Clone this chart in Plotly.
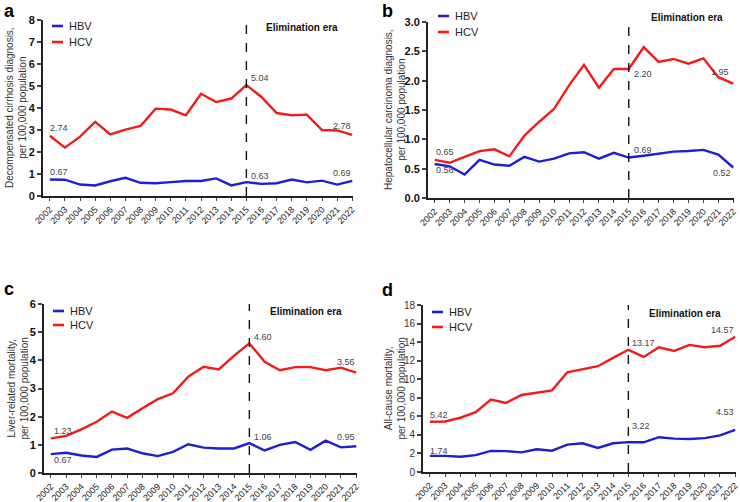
import plotly.graph_objects as go

years = list(range(2002, 2023))

# Panel a: Decompensated cirrhosis diagnosis
a_hbv = [0.75, 0.74, 0.52, 0.48, 0.67, 0.83, 0.60, 0.58, 0.63, 0.68, 0.68, 0.80, 0.48, 0.63, 0.55, 0.58, 0.75, 0.62, 0.70, 0.52, 0.69]
a_hcv = [2.74, 2.20, 2.70, 3.37, 2.80, 3.02, 3.18, 3.97, 3.93, 3.67, 4.65, 4.27, 4.43, 5.04, 4.50, 3.77, 3.67, 3.70, 3.00, 2.98, 2.78]
# Panel b: Hepatocellular carcinoma diagnosis
b_hbv = [0.58, 0.54, 0.40, 0.65, 0.57, 0.55, 0.70, 0.62, 0.67, 0.76, 0.78, 0.67, 0.77, 0.69, 0.72, 0.75, 0.79, 0.80, 0.82, 0.74, 0.52]
b_hcv = [0.65, 0.60, 0.70, 0.80, 0.83, 0.71, 1.06, 1.30, 1.52, 1.92, 2.27, 1.88, 2.20, 2.20, 2.57, 2.32, 2.37, 2.29, 2.38, 2.06, 1.95]
# Panel c: Liver-related mortality
c_hbv = [0.67, 0.72, 0.62, 0.57, 0.83, 0.87, 0.70, 0.60, 0.75, 1.02, 0.90, 0.87, 0.87, 1.06, 0.80, 1.00, 1.10, 0.82, 1.15, 0.91, 0.95]
c_hcv = [1.23, 1.32, 1.55, 1.82, 2.18, 1.96, 2.30, 2.62, 2.83, 3.42, 3.77, 3.68, 4.17, 4.60, 3.95, 3.65, 3.76, 3.76, 3.65, 3.74, 3.56]
# Panel d: All-cause mortality
d_hbv = [1.74, 1.74, 1.65, 1.82, 2.28, 2.25, 2.12, 2.45, 2.30, 2.95, 3.10, 2.60, 3.10, 3.22, 3.20, 3.75, 3.60, 3.55, 3.65, 3.95, 4.53]
d_hcv = [5.42, 5.45, 5.85, 6.45, 7.80, 7.45, 8.30, 8.55, 8.80, 10.75, 11.05, 11.40, 12.30, 13.17, 12.40, 13.45, 13.05, 13.70, 13.45, 13.60, 14.57]

# Printed value labels (2002, 2015, 2022)
a_hbv_lab = ["0.67", "0.63", "0.69"]
a_hcv_lab = ["2.74", "5.04", "2.78"]
b_hbv_lab = ["0.58", "0.69", "0.52"]
b_hcv_lab = ["0.65", "2.20", "1.95"]
c_hbv_lab = ["0.67", "1.06", "0.95"]
c_hcv_lab = ["1.23", "4.60", "3.56"]
d_hbv_lab = ["1.74", "3.22", "4.53"]
d_hcv_lab = ["5.42", "13.17", "14.57"]
label_years = [2002, 2015, 2022]

y_titles = ["Decompensated cirrhosis diagnosis,<br>per 100,000 population",
            "Hepatocellular carcinoma diagnosis,<br>per 100,000 population",
            "Liver-related mortality,<br>per 100,000 population",
            "All-cause mortality,<br>per 100,000 population"]
panel_letters = ["a", "b", "c", "d"]
y_max = [8, 3, 6, 18]
y_dtick = [1, 0.5, 1, 2]
y_fmt = ["d", ".1f", "d", "d"]
y_bold = [True, True, True, False]
era_year = 2015
era_text = "Elimination era"

W, H = 740, 502
BLUE = "#1e1ed2"
RED = "#f41a1a"
FONT = "Liberation Sans, Arial, sans-serif"

def px(x):
    return x / W
def py(y):
    return 1 - y / H

# panel geometry in pixels: (left, right, top, bottom)
geo = [(43, 353, 20, 196), (428, 734, 22, 198), (44, 357, 304, 473), (423, 736, 305, 472)]
title_x = [16, 395, 17, 394]
letter_pos = [(2, 11), (380, 11), (2, 289), (380, 290)]
legend_pos = [(52, 26, 16), (438, 16, 16), (53, 311, 14), (432, 312, 15)]
era_pos = [(302, 28), (687, 18), (306, 311), (685, 313)]

fig = go.Figure()
data = [(a_hbv, a_hcv), (b_hbv, b_hcv), (c_hbv, c_hcv), (d_hbv, d_hcv)]
labs = [(a_hbv_lab, a_hcv_lab), (b_hbv_lab, b_hcv_lab), (c_hbv_lab, c_hcv_lab), (d_hbv_lab, d_hcv_lab)]

annotations = []
shapes = []
layout = {}

# label offsets (xshift, yshift, xanchor) per panel, per series [HBV, HCV], per label
offs = [
    # a
    ([(-2, 7, "left"), (3, 6, "left"), (1, 8, "right")],
     [(-2, 8, "left"), (3, 7, "left"), (1, 9, "right")]),
    # b
    ([(-1, -6, "left"), (3, 8, "left"), (0, -6, "right")],
     [(-1, 8, "left"), (3, -5, "left"), (-2, 12, "right")]),
    # c
    ([(1, -6, "left"), (3, 6, "left"), (1, 9, "right")],
     [(1, 7, "left"), (3, 6, "left"), (1, 11, "right")]),
    # d
    ([(-2, 5, "left"), (2, 16, "left"), (1, 18, "right")],
     [(-2, 7, "left"), (2, 7, "left"), (1, 7, "right")]),
]

for i in range(4):
    xa = "x" if i == 0 else f"x{i+1}"
    ya = "y" if i == 0 else f"y{i+1}"
    xkey = "xaxis" if i == 0 else f"xaxis{i+1}"
    ykey = "yaxis" if i == 0 else f"yaxis{i+1}"
    l, r, t, b = geo[i]
    hbv, hcv = data[i]
    fig.add_trace(go.Scatter(x=years, y=hbv, mode="lines", line=dict(color=BLUE, width=2.4),
                             name="HBV", xaxis=xa, yaxis=ya, showlegend=False))
    fig.add_trace(go.Scatter(x=years, y=hcv, mode="lines", line=dict(color=RED, width=2.4),
                             name="HCV", xaxis=xa, yaxis=ya, showlegend=False))
    layout[xkey] = dict(domain=[px(l), px(r)], anchor=ya, range=[2001.55, 2022.05],
                        tickmode="array", tickvals=years, ticktext=[str(y) for y in years],
                        tickangle=-45, ticks="outside", ticklen=3, tickwidth=1.2,
                        tickfont=dict(family=FONT, size=9, color="#222"),
                        showline=True, linecolor="#222", linewidth=1.6, automargin=False,
                        showgrid=False, zeroline=False, fixedrange=True)
    layout[ykey] = dict(domain=[py(b), py(t)], anchor=xa, range=[0, y_max[i]],
                        dtick=y_dtick[i], tick0=0, tickformat=y_fmt[i],
                        ticks="outside", ticklen=4, tickwidth=1.6,
                        tickfont=dict(family=FONT, size=11 if y_bold[i] else 10,
                                      color="#111" if y_bold[i] else "#333",
                                      weight="bold" if y_bold[i] else "normal"),
                        showline=True, linecolor="#222", linewidth=1.8, automargin=False,
                        showgrid=False, zeroline=False, fixedrange=True)
    # dashed elimination line
    shapes.append(dict(type="line", xref=xa, yref=f"{ya} domain", x0=era_year, x1=era_year,
                       y0=0, y1=1, line=dict(color="#111", width=1.4, dash="dash")))
    # elimination era text
    ex, ey = era_pos[i]
    annotations.append(dict(text=f"<b>{era_text}</b>", xref="paper", yref="paper",
                            x=px(ex), y=py(ey), showarrow=False,
                            font=dict(family=FONT, size=10, color="#111"),
                            xanchor="center", yanchor="middle"))
    # legend
    lx0, ly0, dy = legend_pos[i]
    for k, (nm, col) in enumerate([("HBV", BLUE), ("HCV", RED)]):
        yy = ly0 + dy * k
        shapes.append(dict(type="line", xref="paper", yref="paper", x0=px(lx0), x1=px(lx0 + 11),
                           y0=py(yy), y1=py(yy), line=dict(color=col, width=2.6)))
        annotations.append(dict(text=nm, xref="paper", yref="paper", x=px(lx0 + 15), y=py(yy),
                                showarrow=False, xanchor="left", yanchor="middle",
                                font=dict(family=FONT, size=11, color="#222")))
    # axis title
    annotations.append(dict(text=y_titles[i], xref="paper", yref="paper",
                            x=px(title_x[i]), y=py((t + b) / 2), textangle=-90,
                            showarrow=False, xanchor="center", yanchor="middle",
                            font=dict(family=FONT, size=10, color="#333")))
    # panel letter
    annotations.append(dict(text=f"<b>{panel_letters[i]}</b>", xref="paper", yref="paper",
                            x=px(letter_pos[i][0]), y=py(letter_pos[i][1]), showarrow=False,
                            xanchor="left", yanchor="middle",
                            font=dict(family=FONT, size=18, color="#000")))
    # value labels
    for s, (series, lab) in enumerate(zip(data[i], labs[i])):
        for j, yr in enumerate(label_years):
            idx = years.index(yr)
            dx, dy2, xanc = offs[i][s][j]
            annotations.append(dict(text=lab[j], x=yr, y=series[idx], xref=xa, yref=ya,
                                    showarrow=False, xanchor=xanc, yanchor="middle",
                                    xshift=dx, yshift=dy2,
                                    font=dict(family=FONT, size=9, color="#444")))

fig.update_layout(width=W, height=H, margin=dict(l=0, r=0, t=0, b=0, autoexpand=False),
                  paper_bgcolor="white", plot_bgcolor="white",
                  annotations=annotations, shapes=shapes, showlegend=False, **layout)

fig.write_html("out.html", config={"displayModeBar": False},
               post_script="document.body.style.margin='0';document.body.style.overflow='hidden';")
